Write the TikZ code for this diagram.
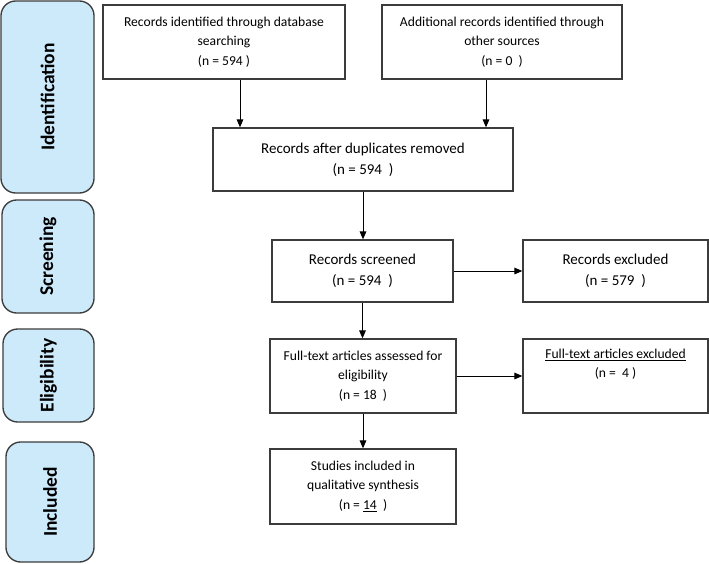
\documentclass[tikz,border=0pt]{standalone}
\usepackage{fontspec}
\setmainfont{Carlito}
\usetikzlibrary{arrows.meta}
\definecolor{bandblue}{HTML}{CDEAFB}
\definecolor{edgegray}{HTML}{3C3C3C}

\begin{document}
\begin{tikzpicture}[x=0.75pt,y=-0.75pt,
  box/.style={draw=edgegray,line width=1pt,align=center,inner sep=0pt,
    font=\fontsize{10.2}{14.6}\selectfont},
  bigbox/.style={box,font=\fontsize{11.25}{15.75}\selectfont},
  band/.style={draw=edgegray,fill=bandblue,line width=1pt,rounded corners=11pt,
    rotate=90,inner sep=0pt,font=\fontsize{14.6}{17}\selectfont\bfseries},
  arr/.style={line width=0.75pt,-{Triangle[length=6pt,width=5pt]}}]

\useasboundingbox (0,0) rectangle (709,563);

\node[band,minimum width=144pt,minimum height=69.75pt] (ident) at (47.5,97) {Identification};
\node[band,minimum width=84.75pt,minimum height=69pt] (screen) at (48,256.5) {Screening};
\node[band,minimum width=69.75pt,minimum height=68.25pt] (elig) at (48.5,375.5) {Eligibility};
\node[band,minimum width=90pt,minimum height=66pt] (incl) at (50,502) {Included};

\node[box,minimum width=181.5pt,minimum height=55.5pt] (db) at (224,42)
  {Records identified through database\\searching\\(n = 594 )};
\node[box,minimum width=180pt,minimum height=55.5pt] (other) at (502,42)
  {Additional records identified through\\other sources\\(n = 0\ \ )};
\node[bigbox,minimum width=225pt,minimum height=47.25pt] (dup) at (363,159.5)
  {Records after duplicates removed\\(n = 594\ \ )};
\node[bigbox,minimum width=135.75pt,minimum height=46.5pt] (scr) at (362.5,271)
  {Records screened\\(n = 594\ \ )};
\node[bigbox,minimum width=138.75pt,minimum height=46.5pt] (exc) at (615.5,271)
  {Records excluded\\(n = 579\ \ )};
\node[box,minimum width=139.5pt,minimum height=55.5pt] (full) at (363,376)
  {Full-text articles assessed for\\eligibility\\(n = 18\ \ )};
\node[box,minimum width=138.75pt,minimum height=55.5pt] (fexc) at (615.5,376)
  {\underline{Full-text articles excluded}\\(n =\ \ 4 )\\\strut};
\node[box,minimum width=139.5pt,minimum height=56.25pt] (qual) at (363,486.5)
  {Studies included in\\qualitative synthesis\\(n = \underline{14}\ \ )};

\draw[arr] ([xshift=12pt]db.south) -- ([xshift=12pt]db.south |- dup.north);
\draw[arr] ([xshift=-12pt]other.south) -- ([xshift=-12pt]other.south |- dup.north);
\draw[arr] (dup.south) -- (dup.south |- scr.north);
\draw[arr] (scr.east) -- (exc.west);
\draw[arr] (scr.south) -- (scr.south |- full.north);
\draw[arr] (full.east) -- (fexc.west);
\draw[arr] (full.south) -- (qual.north);

\end{tikzpicture}
\end{document}
